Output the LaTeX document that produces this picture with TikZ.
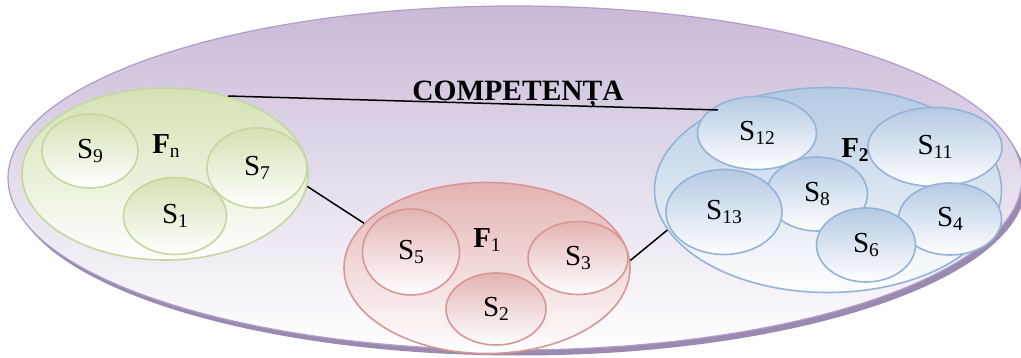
\documentclass[tikz,border=0pt]{standalone}
\usepackage{fontspec}
\setmainfont{Liberation Serif}
\usetikzlibrary{shapes.geometric}
\definecolor{pTop}{HTML}{C9BAD8}
\definecolor{pLine}{HTML}{B09DC8}
\definecolor{pShadow}{HTML}{9A8AB0}
\definecolor{gTop}{HTML}{D3E2B3}
\definecolor{gLine}{HTML}{C3D79E}
\definecolor{rTop}{HTML}{E4B3B3}
\definecolor{rLine}{HTML}{D99694}
\definecolor{bTop}{HTML}{B4CAE3}
\definecolor{bLine}{HTML}{93B3D8}
\newcommand\subx[1]{\raisebox{-0.3ex}{\fontsize{19.5}{19.5}\selectfont #1}}
\begin{document}
\begin{tikzpicture}[x=1pt,y=-1pt,
  ell/.style={ellipse,inner sep=0pt,line width=1.6pt},
  grn/.style={ell,draw=gLine,top color=gTop,bottom color=white},
  red/.style={ell,draw=rLine,top color=rTop,bottom color=white},
  blu/.style={ell,draw=bLine,top color=bTop,bottom color=white},
  lbl/.style={font=\fontsize{29}{29}\selectfont},
  flbl/.style={font=\fontsize{29}{29}\selectfont\bfseries},
  conn/.style={draw=black,line width=1.5pt}]
\useasboundingbox (0,0) rectangle (1021,358);
\fill[white] (0,0) rectangle (1021,358);
% big ellipse
\fill[pShadow] (519,183.5) ellipse [x radius=507pt,y radius=172pt];
\node[ell,draw=pLine,line width=1.2pt,top color=pTop,bottom color=white,
  minimum width=1014pt,minimum height=344pt] (big) at (515,178) {};
\node[anchor=base,font=\fontsize{29.5}{29.5}\selectfont\bfseries] (title) at (518,101) {COMPETENȚA};
% Fn group
\node[grn,minimum width=286pt,minimum height=172pt] (Fn) at (165,174) {};
\node[grn,minimum width=96pt,minimum height=74pt,lbl] (S9) at (90,151) {S\subx{9}};
\node[grn,minimum width=100pt,minimum height=80pt,lbl] (S7) at (257,168) {S\subx{7}};
\node[grn,minimum width=103pt,minimum height=77pt,lbl] (S1) at (175,216) {S\subx{1}};
\node[flbl] (FnL) at (166,146) {F\subx{\mdseries n}};
% F1 group
\node[red,minimum width=286pt,minimum height=171pt] (F1) at (487,268) {};
\node[red,minimum width=97pt,minimum height=86pt,lbl] (S5) at (411,252) {S\subx{5}};
\node[red,minimum width=100pt,minimum height=73pt,lbl] (S3) at (578,258) {S\subx{3}};
\node[red,minimum width=100pt,minimum height=72pt,lbl] (S2) at (496,309) {S\subx{2}};
\node[flbl] (F1L) at (487,240) {F\subx{\mdseries 1}};
% F2 group
\node[blu,minimum width=347pt,minimum height=205pt] (F2) at (828,190) {};
\node[blu,minimum width=119pt,minimum height=73pt,lbl] (S12) at (757,133) {S\subx{12}};
\node[blu,minimum width=134pt,minimum height=79pt,lbl] (S11) at (935,147) {S\subx{11}};
\node[blu,minimum width=103pt,minimum height=72pt,lbl] (S4) at (950,219) {S\subx{4}};
\node[blu,minimum width=101pt,minimum height=74pt,lbl] (S8) at (817,194) {S\subx{8}};
\node[blu,minimum width=116pt,minimum height=85pt,lbl] (S13) at (724,212) {S\subx{13}};
\node[blu,minimum width=99pt,minimum height=74pt,lbl] (S6) at (866,245) {S\subx{6}};
\node[flbl] (F2L) at (855,150) {F\subx{2}};
% connectors
\draw[conn] (Fn.51) -- (F2.144);
\draw[conn] (Fn.-5) -- (F1.160);
\draw[conn] (F1.3) -- (F2.194);
\end{tikzpicture}
\end{document}
